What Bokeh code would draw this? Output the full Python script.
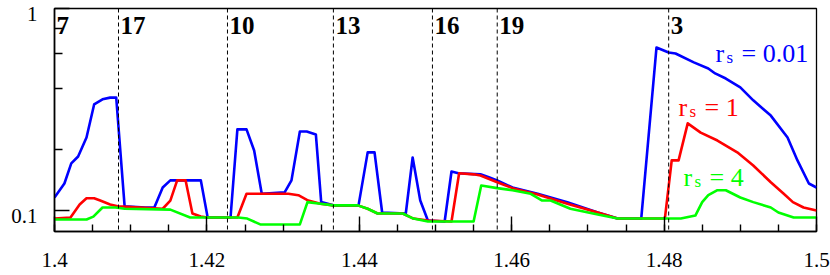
from bokeh.plotting import figure
from bokeh.models import (Range1d, FixedTicker, Span, Label, ColumnDataSource,
                          LogAxis, LogScale)
from bokeh.core.properties import value
from bokeh.embed import file_html
from bokeh.resources import INLINE

# ---- data ----
blue_x = [1.4000, 1.4013, 1.4022, 1.4031, 1.4042, 1.4052, 1.4063, 1.4073, 1.4081, 1.4092,
          1.4119, 1.4131, 1.4142, 1.4152, 1.4192, 1.4201, 1.4231, 1.4240, 1.4252, 1.4262,
          1.4272, 1.4302, 1.4311, 1.4322, 1.4331, 1.4343, 1.4350, 1.4366, 1.4399, 1.4411,
          1.4420, 1.4430, 1.4461, 1.4470, 1.4480, 1.4490, 1.4512, 1.4521, 1.4530, 1.4559,
          1.4570, 1.4581, 1.4601, 1.4634, 1.4673, 1.4713, 1.4739, 1.4770, 1.4790, 1.4806,
          1.4815, 1.4839, 1.4858, 1.4867, 1.4881, 1.4900, 1.4917, 1.4940, 1.4962, 1.4975,
          1.4990, 1.5000]
blue_y = [0.116, 0.136, 0.171, 0.185, 0.230, 0.335, 0.355, 0.362, 0.362, 0.105,
          0.1035, 0.1035, 0.130, 0.141, 0.141, 0.0923, 0.0923, 0.252, 0.252, 0.198,
          0.121, 0.123, 0.141, 0.246, 0.246, 0.238, 0.110, 0.106, 0.106, 0.194,
          0.194, 0.0977, 0.0966, 0.183, 0.112, 0.0892, 0.0882, 0.156, 0.153, 0.151,
          0.146, 0.141, 0.130, 0.121, 0.110, 0.0977, 0.0912, 0.0912, 0.641, 0.606,
          0.599, 0.541, 0.505, 0.477, 0.450, 0.407, 0.351, 0.295, 0.230, 0.177,
          0.136, 0.130]

red_x = [1.4000, 1.4021, 1.4033, 1.4042, 1.4052, 1.4060, 1.4073, 1.4083, 1.4142, 1.4152,
         1.4161, 1.4172, 1.4181, 1.4192, 1.4201, 1.4240, 1.4252, 1.4307, 1.4320, 1.4333,
         1.4349, 1.4366, 1.4398, 1.4411, 1.4424, 1.4457, 1.4471, 1.4490, 1.4521, 1.4531,
         1.4550, 1.4559, 1.4581, 1.4601, 1.4634, 1.4673, 1.4713, 1.4739, 1.4801, 1.4810,
         1.4819, 1.4831, 1.4848, 1.4870, 1.4896, 1.4917, 1.4940, 1.4957, 1.4969, 1.4983,
         1.5000]
red_y = [0.0912, 0.0923, 0.107, 0.115, 0.115, 0.112, 0.107, 0.105, 0.102, 0.112,
         0.141, 0.141, 0.0966, 0.0933, 0.0923, 0.0923, 0.121, 0.121, 0.119, 0.112,
         0.108, 0.106, 0.106, 0.102, 0.0966, 0.0966, 0.0912, 0.0892, 0.0882, 0.153,
         0.151, 0.149, 0.138, 0.129, 0.120, 0.108, 0.0977, 0.0912, 0.0912, 0.177,
         0.177, 0.270, 0.243, 0.222, 0.194, 0.167, 0.138, 0.121, 0.110, 0.1035,
         0.100]

green_x = [1.4000, 1.4042, 1.4051, 1.4063, 1.4080, 1.4092, 1.4152, 1.4178, 1.4241, 1.4253,
           1.4270, 1.4322, 1.4332, 1.4349, 1.4366, 1.4398, 1.4411, 1.4424, 1.4457, 1.4471,
           1.4490, 1.4550, 1.4560, 1.4581, 1.4601, 1.4625, 1.4640, 1.4651, 1.4677, 1.4713,
           1.4739, 1.4822, 1.4841, 1.4850, 1.4858, 1.4870, 1.4881, 1.4900, 1.4917, 1.4940,
           1.4950, 1.4970, 1.5000]
green_y = [0.0902, 0.0902, 0.0933, 0.1035, 0.1035, 0.102, 0.101, 0.0923, 0.0923, 0.0912,
           0.0853, 0.0853, 0.110, 0.108, 0.106, 0.106, 0.102, 0.0966, 0.0966, 0.0912,
           0.0882, 0.0882, 0.133, 0.129, 0.126, 0.121, 0.112, 0.112, 0.102, 0.0955,
           0.0912, 0.0912, 0.0944, 0.110, 0.119, 0.126, 0.126, 0.116, 0.110, 0.1035,
           0.0977, 0.0923, 0.0923]

boundaries = [1.4084, 1.4227, 1.4366, 1.4496, 1.4581, 1.4806]
region_labels = ["7", "17", "10", "13", "16", "19", "3"]
region_label_x = [1.4000] + boundaries
region_label_y = 0.735

x_ticks = [1.4, 1.42, 1.44, 1.46, 1.48, 1.5]
x_tick_labels = ["1.4", "1.42", "1.44", "1.46", "1.48", "1.5"]
x_minor = [1.4 + 0.005 * i for i in range(21)]
y_ticks = [0.1, 1.0]
y_tick_labels = ["0.1", "1"]
y_minor = [0.2, 0.4, 0.6, 0.8]

series_names = ["0.01", "1", "4"]
series_colors = ["#0000ff", "#ff0000", "#00ff00"]
legend_x = [1.48675, 1.48189, 1.48255]
legend_y = [0.540, 0.292, 0.1315]

FONT = "Liberation Serif"
Y_LO, Y_HI = 0.0787, 1.0
LABEL_SHIFT = 10 ** 0.025   # y tick labels sit ~5 px below their ticks

p = figure(width=830, height=275, x_range=Range1d(1.4, 1.5),
           y_range=Range1d(Y_LO, Y_HI), y_axis_type="log",
           output_backend="svg", toolbar_location=None,
           min_border_left=54, min_border_right=14, min_border_top=8,
           min_border_bottom=44)
p.grid.visible = False
p.outline_line_color = "black"
p.outline_line_width = 1.3
p.background_fill_color = "white"
p.border_fill_color = "white"

p.xaxis.ticker = FixedTicker(ticks=x_ticks, minor_ticks=x_minor)
p.xaxis.major_label_overrides = dict(zip(x_ticks, x_tick_labels))
p.yaxis.ticker = FixedTicker(ticks=y_ticks, minor_ticks=y_minor)
p.yaxis.major_label_overrides = {t: "" for t in y_ticks}
p.yaxis.major_label_standoff = 0

for ax in (p.xaxis, p.yaxis):
    ax.major_tick_in = 15
    ax.major_tick_out = 0
    ax.minor_tick_out = 0
    ax.axis_line_color = "black"
    ax.axis_line_width = 1.6
    ax.major_tick_line_color = "black"
    ax.minor_tick_line_color = "black"
    ax.major_tick_line_width = 1.4
    ax.minor_tick_line_width = 1.4
    ax.major_label_text_font = FONT
    ax.major_label_text_font_size = "21px"
    ax.major_label_text_color = "black"
p.xaxis.minor_tick_in = 7
p.yaxis.minor_tick_in = 8
p.xaxis.major_label_standoff = 21

# second left axis that only carries the y tick labels, shifted a little downward
p.extra_y_ranges = {"lab": Range1d(Y_LO * LABEL_SHIFT, Y_HI * LABEL_SHIFT)}
p.extra_y_scales = {"lab": LogScale()}
lab_axis = LogAxis(y_range_name="lab", ticker=FixedTicker(ticks=y_ticks, minor_ticks=[]),
                   major_label_overrides=dict(zip(y_ticks, y_tick_labels)),
                   axis_line_color=None, major_tick_line_color=None,
                   minor_tick_line_color=None, major_tick_in=0, major_tick_out=0,
                   minor_tick_in=0, minor_tick_out=0, major_label_standoff=17,
                   major_label_text_font=FONT, major_label_text_font_size="21px",
                   major_label_text_color="black")
p.add_layout(lab_axis, "left")

for xs, ys, c in [(blue_x, blue_y, series_colors[0]),
                  (red_x, red_y, series_colors[1]),
                  (green_x, green_y, series_colors[2])]:
    p.line(xs, ys, line_color=c, line_width=2.6, line_join="round")

for b in boundaries:
    p.add_layout(Span(location=b, dimension="height", line_color="black",
                      line_width=1, line_dash="4 3"))

src = ColumnDataSource(dict(x=region_label_x, y=[region_label_y] * len(region_labels),
                            t=region_labels))
p.text(x="x", y="y", text="t", source=src, x_offset=2, y_offset=-10,
       text_font=value(FONT), text_font_style="bold", text_font_size="25px",
       text_color="black", text_baseline="alphabetic", text_align="left")

for name, c, lx, ly in zip(series_names, series_colors, legend_x, legend_y):
    p.add_layout(Label(x=lx, y=ly, y_offset=9, text="r", text_color=c, text_font=FONT,
                       text_font_size="26px", text_baseline="alphabetic"))
    p.add_layout(Label(x=lx, y=ly, x_offset=11, y_offset=5, text="s", text_color=c,
                       text_font=FONT, text_font_size="17px",
                       text_baseline="alphabetic"))
    p.add_layout(Label(x=lx, y=ly, x_offset=26, y_offset=9, text="= " + name,
                       text_color=c, text_font=FONT, text_font_size="26px",
                       text_baseline="alphabetic"))

open("out.html", "w").write(file_html(p, INLINE))
